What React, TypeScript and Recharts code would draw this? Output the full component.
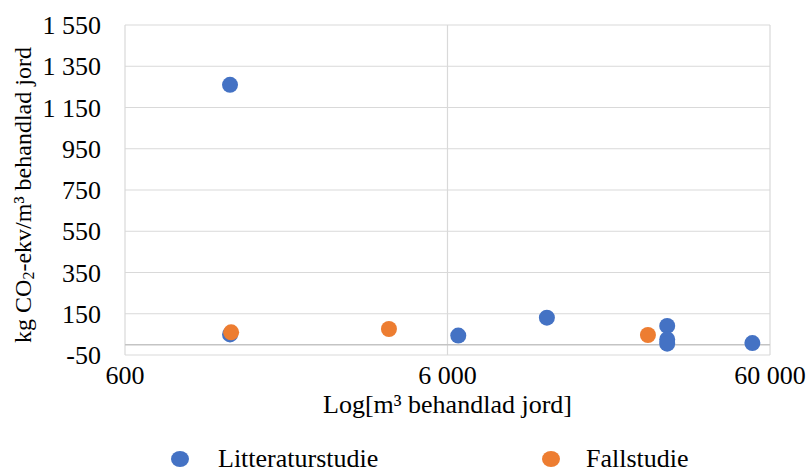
import {
  CartesianGrid,
  Legend,
  ReferenceLine,
  Scatter,
  ScatterChart,
  XAxis,
  YAxis,
} from "recharts";

const BLUE = "#4472C4";
const ORANGE = "#ED7D31";
const GRID = "#d9d9d9";
const FONT = '"Liberation Serif", "Times New Roman", serif';

// Litteraturstudie
const litteraturX = [1270, 1270, 6480, 12200, 28800, 28800, 28800, 52900];
const litteraturY = [1260, 50, 44, 131, 91, 25, 5, 8];

// Fallstudie
const fallX = [1280, 3950, 25100];
const fallY = [60, 76, 47];

const xTicks = [600, 6000, 60000];
const yTicks = [-50, 150, 350, 550, 750, 950, 1150, 1350, 1550];

const seriesNames = ["Litteraturstudie", "Fallstudie"];

const litteratur = litteraturX.map((x, i) => ({ x, y: litteraturY[i] }));
const fall = fallX.map((x, i) => ({ x, y: fallY[i] }));

function spaced(v: number) {
  return String(v).replace(/\B(?=(\d{3})+(?!\d))/g, " ");
}

function dot(color: string) {
  return (p: any) => <circle cx={p.cx} cy={p.cy} r={8} fill={color} />;
}

function YTitle({ viewBox }: any) {
  const cx = 23;
  const cy = viewBox ? viewBox.y + viewBox.height / 2 + 5 : 195;
  return (
    <text
      x={cx}
      y={cy}
      transform={`rotate(-90, ${cx}, ${cy})`}
      textAnchor="middle"
      dominantBaseline="central"
      fontFamily={FONT}
      style={{ fontFamily: FONT }}
      fontSize={24}
      fill="#000"
    >
      kg CO
      <tspan fontSize={16} dy={5}>2</tspan>
      <tspan dy={-5}>-ekv/m³ behandlad jord</tspan>
    </text>
  );
}

function LegendBox() {
  const items = [
    { name: seriesNames[0], color: BLUE, dotX: 180, textX: 218 },
    { name: seriesNames[1], color: ORANGE, dotX: 551, textX: 586 },
  ];
  return (
    <div style={{ position: "relative", height: 47, width: 809 }}>
      {items.map((it) => (
        <div key={it.name}>
          <div
            style={{
              position: "absolute",
              left: it.dotX - 9,
              top: 34 - 8,
              width: 18,
              height: 16,
              borderRadius: "50%",
              background: it.color,
            }}
          />
          <div
            style={{
              position: "absolute",
              left: it.textX,
              top: 19,
              fontFamily: FONT,
              fontSize: 26,
              lineHeight: "30px",
              color: "#000",
              whiteSpace: "nowrap",
            }}
          >
            {it.name}
          </div>
        </div>
      ))}
    </div>
  );
}

const tickStyle = { fontFamily: FONT, fontSize: 26, fill: "#000", style: { fontFamily: FONT } };

export default function App() {
  return (
    <div
      style={{
        position: "absolute",
        left: 0,
        top: 0,
        width: 809,
        height: 472,
        background: "#fff",
        fontFamily: FONT,
        overflow: "hidden",
      }}
    >
      <ScatterChart width={809} height={472} margin={{ top: 25, right: 39, left: 0, bottom: 0 }}>
        <CartesianGrid stroke={GRID} strokeWidth={1.2} />
        <XAxis
          type="number"
          dataKey="x"
          scale="log"
          domain={[600, 60000]}
          ticks={xTicks}
          allowDataOverflow
          height={70}
          axisLine={false}
          tickLine={false}
          tickSize={0}
          tickMargin={11}
          tickFormatter={spaced}
          tick={tickStyle}
          label={{
            value: "Log[m³ behandlad jord]",
            position: "insideBottom",
            offset: 12,
            fontFamily: FONT,
            fontSize: 26,
            fill: "#000",
          }}
        />
        <YAxis
          type="number"
          dataKey="y"
          domain={[-50, 1550]}
          ticks={yTicks}
          allowDataOverflow
          width={125}
          axisLine={false}
          tickLine={false}
          tickSize={0}
          tickMargin={24}
          tickFormatter={spaced}
          tick={tickStyle}
          label={<YTitle />}
        />
        <ReferenceLine y={0} stroke="#c4c4c4" strokeWidth={1.6} />
        <Legend verticalAlign="bottom" content={() => <LegendBox />} />
        <Scatter
          name={seriesNames[0]}
          data={litteratur}
          fill={BLUE}
          shape={dot(BLUE)}
          isAnimationActive={false}
        />
        <Scatter
          name={seriesNames[1]}
          data={fall}
          fill={ORANGE}
          shape={dot(ORANGE)}
          isAnimationActive={false}
        />
      </ScatterChart>
    </div>
  );
}
